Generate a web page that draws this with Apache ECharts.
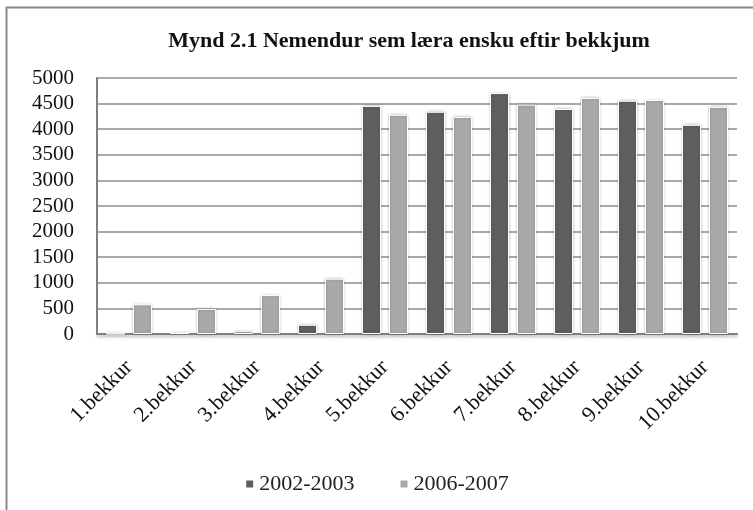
<!DOCTYPE html>
<html><head><meta charset="utf-8">
<script src="https://cdn.jsdelivr.net/npm/echarts@6/dist/echarts.min.js"></script>
<style>html,body{margin:0;padding:0;background:#fff}#c{width:753px;height:510px}</style>
</head><body><div id="c"></div>
<script>
var categories = ['1.bekkur','2.bekkur','3.bekkur','4.bekkur','5.bekkur','6.bekkur','7.bekkur','8.bekkur','9.bekkur','10.bekkur'];
var series2002 = [5, 30, 50, 180, 4455, 4340, 4705, 4395, 4555, 4085];
var series2006 = [580, 490, 760, 1080, 4280, 4240, 4480, 4610, 4570, 4435];
var yTicks = [0, 500, 1000, 1500, 2000, 2500, 3000, 3500, 4000, 4500, 5000];
var font = '"Liberation Serif", "DejaVu Serif", serif';
var chart = echarts.init(document.getElementById('c'));
var barStyle = function(c){ return {color:c, borderColor:'#fff', borderWidth:1, shadowColor:'rgba(0,0,0,0.25)', shadowBlur:3}; };
chart.setOption({
  animation:false,
  graphic:[{type:'rect', shape:{x:6.5,y:7.5,width:800,height:600}, style:{fill:'none', stroke:'#8a8a8a', lineWidth:2}, silent:true}],
  title:{text:'Mynd 2.1 Nemendur sem læra ensku eftir bekkjum', left:404, top:25, textAlign:'center',
    textStyle:{fontFamily:font, fontWeight:'bold', fontSize:22, color:'#111'}},
  grid:{left:97, right:16, top:78, bottom:176, containLabel:false},
  legend:{bottom:10, left:'center', itemWidth:9, itemHeight:9, itemGap:44, icon:'rect',
    textStyle:{fontFamily:font, fontSize:22, color:'#222'}, data:['2002-2003','2006-2007']},
  xAxis:{type:'category', data:categories,
    axisLine:{lineStyle:{color:'#7f7f7f', width:2, shadowColor:'rgba(0,0,0,0.3)', shadowBlur:3, shadowOffsetY:2}},
    axisTick:{show:false},
    axisLabel:{rotate:45, fontFamily:font, fontSize:22, color:'#111', margin:30, interval:0}},
  yAxis:{type:'value', min:0, max:5000, interval:500,
    axisLine:{show:true, lineStyle:{color:'#7f7f7f', width:2}},
    axisTick:{show:false},
    splitLine:{lineStyle:{color:'#8c8c8c', width:1.5}},
    axisLabel:{fontFamily:font, fontSize:21, color:'#111', margin:23,
      formatter:function(v){return yTicks.indexOf(v)>=0? String(v):'';}}},
  series:[
    {name:'2002-2003', type:'bar', data:series2002, barWidth:19, barGap:'42%', itemStyle:barStyle('#5e5f60')},
    {name:'2006-2007', type:'bar', data:series2006, barWidth:19, itemStyle:barStyle('#a8aaaa')}
  ]
});
</script></body></html>
